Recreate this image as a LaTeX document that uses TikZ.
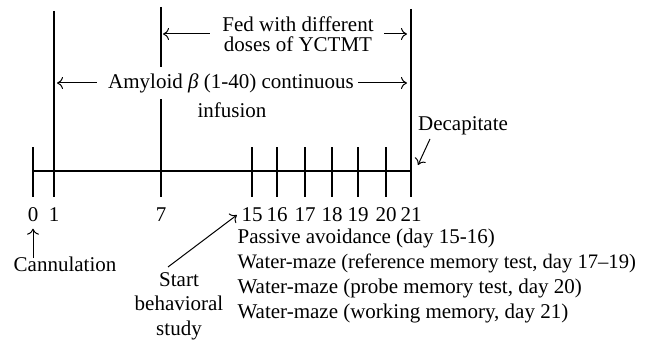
\documentclass[tikz,border=0pt]{standalone}
\usepackage{fontspec}
\setmainfont{Liberation Serif}
\usetikzlibrary{arrows.meta}
\begin{document}
\begin{tikzpicture}[x=1pt,y=-1pt,line width=1.2pt,
  lbl/.style={font=\fontsize{21}{24}\selectfont,inner sep=0pt},
  arr/.style={-{Computer Modern Rightarrow[length=6pt,width=12pt]},line width=1pt}]
\path[use as bounding box] (0,0) rectangle (646,345);
% timeline
\coordinate (d0) at (33,171);
\coordinate (d21) at (411,171);
\draw (d0) -- (d21);
\foreach \x/\n in {33/0,252/15,277/16,305/17,332/18,358/19,386/20}{
  \draw (\x,147) -- (\x,197);
  \node[lbl] (n\n) at (\x,215) {\n};
}
\draw (54,11) -- (54,197);
\node[lbl] (n1) at (54,215) {1};
\draw (161,7) -- (161,197);
\node[lbl] (n7) at (161,215) {7};
\draw (411,9) -- (411,197);
\node[lbl] (n21) at (411,215) {21};
\coordinate (v1) at (54,0);
\coordinate (v7) at (161,0);
\coordinate (v21) at (411,0);
% fed
\node[lbl,align=center,font=\fontsize{21}{20}\selectfont] (fed) at (298,34) {Fed with different\\doses of YCTMT};
\draw[arr] ([xshift=-12pt]fed.west) -- ([xshift=2pt]fed.west -| v7);
\draw[arr] ([xshift=10pt]fed.east) -- ([xshift=-4pt]fed.east -| v21);
% amyloid
\node[lbl,fill=white,inner xsep=4pt,inner ysep=6pt] (amy) at (231,83) {Amyloid \textit{β} (1-40) continuous};
\node[lbl] (inf) at (232,110) {infusion};
\draw[arr] ([xshift=-7pt]amy.west) -- ([xshift=3pt]amy.west -| v1);
\draw[arr] (amy.east) -- ([xshift=-4pt]amy.east -| v21);
% decapitate
\node[lbl] (dec) at (463,126) {Decapitate};
\coordinate (decA) at (430,139);
\coordinate (decB) at (418,165);
\draw[arr] (decA) -- (decB);
% cannulation
\node[lbl] (cann) at (65,264) {Cannulation};
\draw[arr] ([yshift=-2pt]cann.north -| n0) -- ([yshift=-6pt]n0.south);
% start
\node[lbl,align=center,font=\fontsize{21}{24.5}\selectfont] (start) at (179,306) {Start\\behavioral\\study};
\coordinate (stA) at (168,267);
\draw[arr] (stA) -- ([xshift=-4pt]n15.west);
% list
\node[lbl,anchor=west] (p1) at (237,238) {Passive avoidance (day 15-16)};
\node[lbl,anchor=west,font=\fontsize{20.6}{24}\selectfont] (p2) at (237,263) {Water-maze (reference memory test, day 17–19)};
\node[lbl,anchor=west] (p3) at (237,288) {Water-maze (probe memory test, day 20)};
\node[lbl,anchor=west] (p4) at (237,313) {Water-maze (working memory, day 21)};
\end{tikzpicture}
\end{document}
